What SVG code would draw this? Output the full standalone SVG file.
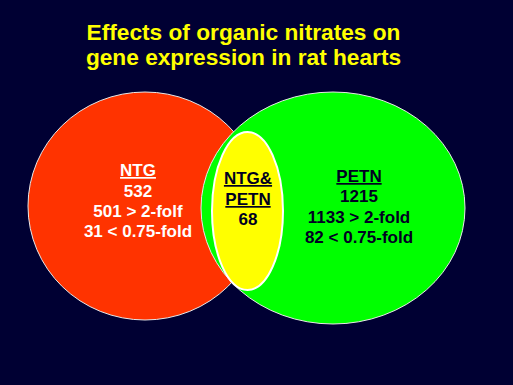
<svg xmlns="http://www.w3.org/2000/svg" width="513" height="385" viewBox="0 0 513 385">
<style>
text{font-family:"Liberation Sans",Arial,sans-serif;font-weight:bold;text-anchor:middle}
.t{fill:#FFFF00;font-size:22.7px}
.w{fill:#FFFFFF;font-size:17px}
.k{fill:#000022;font-size:17px}
.u{text-decoration:underline}
</style>
<rect width="513" height="385" fill="#000033"/>
<g id="title">
<text class="t" x="243.5" y="40">Effects of organic nitrates on</text>
<text class="t" x="243.5" y="65">gene expression in rat hearts</text>
</g>
<g id="ntg">
<ellipse cx="145" cy="206" rx="117" ry="114" fill="#FF3300" stroke="#E8E8E8" stroke-width="1"/>
</g>
<g id="petn">
<ellipse cx="333" cy="208" rx="132" ry="116" fill="#00FF00" stroke="#E8E8E8" stroke-width="1"/>
</g>
<g id="both">
<ellipse cx="247.5" cy="211" rx="35.5" ry="79" fill="#FFFF00" stroke="#FFFFFF" stroke-width="2"/>
</g>
<g id="ntg-label">
<text class="w u" x="138" y="176">NTG</text>
<text class="w" x="138" y="197">532</text>
<text class="w" x="138" y="217">501 &gt; 2-folf</text>
<text class="w" x="138" y="237">31 &lt; 0.75-fold</text>
</g>
<g id="both-label">
<text class="k u" x="248" y="184">NTG&amp;</text>
<text class="k u" x="248" y="205">PETN</text>
<text class="k" x="248" y="225">68</text>
</g>
<g id="petn-label">
<text class="k u" x="359" y="182">PETN</text>
<text class="k" x="359" y="202">1215</text>
<text class="k" x="359" y="223">1133 &gt; 2-fold</text>
<text class="k" x="359" y="243">82 &lt; 0.75-fold</text>
</g>
<g id="connectors"></g>
</svg>
